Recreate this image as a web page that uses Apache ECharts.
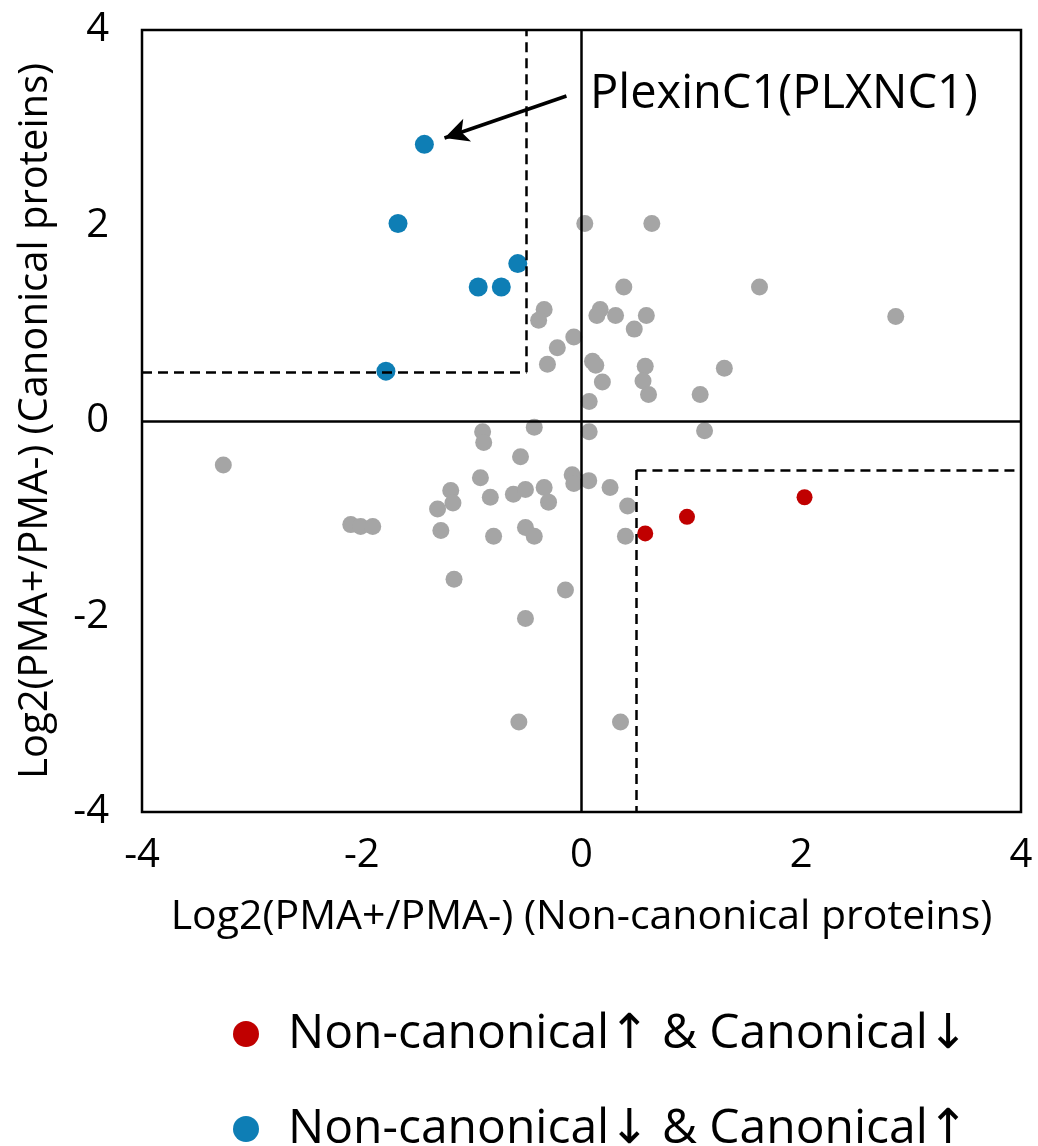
<!DOCTYPE html>
<html>
<head>
<meta charset="utf-8">
<script src="https://cdn.jsdelivr.net/npm/echarts@6/dist/echarts.min.js"></script>
<style>html,body{margin:0;padding:0;background:#fff}#c{width:1038px;height:1146px}</style>
</head>
<body>
<div id="c"></div>
<script>
// ---- data ----
const xTicks = [-4, -2, 0, 2, 4];
const yTicks = [-4, -2, 0, 2, 4];
const threshold = [0.5];

const grayX = [0.03, 0.64, 0.385, 1.62, 0.17, 0.14, 0.31, 0.59, 2.86, 0.48, -0.07, -0.22, 0.10, 0.13, 0.58, 1.30, 0.19, 0.56, 0.61, 1.08, 0.07, -0.34, -0.39, -0.31,
  0.07, 1.12, -3.26, -0.90, -0.89, -0.43, -0.555, -0.92, -0.085, -0.07, 0.066, -1.19, -1.17, -1.31, -0.83, -0.62, -0.51, -0.34, -0.30, -2.10, -2.01, -1.90, -1.28, -0.80, -0.51, -0.43, -1.16, -0.146, -0.51, -0.57, 0.26, 0.42, 0.40, 0.355];
const grayY = [2.02, 2.02, 1.37, 1.37, 1.14, 1.08, 1.08, 1.08, 1.07, 0.94, 0.86, 0.75, 0.61, 0.57, 0.56, 0.54, 0.40, 0.41, 0.27, 0.27, 0.20, 1.14, 1.03, 0.58,
  -0.11, -0.10, -0.45, -0.11, -0.22, -0.065, -0.365, -0.58, -0.55, -0.64, -0.61, -0.71, -0.84, -0.90, -0.78, -0.75, -0.70, -0.68, -0.83, -1.06, -1.08, -1.08, -1.12, -1.18, -1.09, -1.18, -1.62, -1.73, -2.02, -3.08, -0.68, -0.87, -1.18, -3.08];

const blueX = [-1.43, -1.67, -0.58, -0.94, -0.73, -1.78];
const blueY = [2.83, 2.02, 1.61, 1.37, 1.37, 0.51];

const redX = [0.58, 0.96, 2.03];
const redY = [-1.15, -0.98, -0.78];

const redName = 'Non-canonical\u2191 & Canonical\u2193';
const blueName = 'Non-canonical\u2193 & Canonical\u2191';
const annotationText = 'PlexinC1(PLXNC1)';
const annotationFrom = [-0.137, 3.325];
const annotationTo = [-1.247, 2.895];

const xTitle = 'Log2(PMA+/PMA-) (Non-canonical proteins)';
const yTitle = 'Log2(PMA+/PMA-) (Canonical proteins)';

// ---- build ----
const zip = (xs, ys) => xs.map((x, i) => [x, ys[i]]);
const FONT = '"Open Sans", "DejaVu Sans", sans-serif';
const t = threshold[0];
const lo = xTicks[0], hi = xTicks[xTicks.length - 1];
const ylo = yTicks[0], yhi = yTicks[yTicks.length - 1];

const solid = {color: '#000', width: 2.5, type: 'solid'};
const dashed = {color: '#000', width: 2.5, type: [10, 6]};

const chart = echarts.init(document.getElementById('c'), null, {renderer: 'canvas'});
chart.setOption({
  animation: false,
  backgroundColor: '#fff',
  textStyle: {fontFamily: FONT},
  grid: {left: 142, right: 17, top: 30, bottom: 334, show: true, borderColor: '#000', borderWidth: 2.5, containLabel: false},
  xAxis: {
    type: 'value', min: lo, max: hi, interval: xTicks[1] - xTicks[0],
    axisLine: {show: false, onZero: false}, axisTick: {show: false}, splitLine: {show: false},
    axisLabel: {fontSize: 40, color: '#000', margin: 24, fontFamily: FONT},
    name: xTitle, nameLocation: 'middle', nameGap: 85,
    nameTextStyle: {fontSize: 41, color: '#000', fontFamily: FONT}
  },
  yAxis: {
    type: 'value', min: ylo, max: yhi, interval: yTicks[1] - yTicks[0],
    axisLine: {show: false, onZero: false}, axisTick: {show: false}, splitLine: {show: false},
    axisLabel: {fontSize: 40, color: '#000', margin: 33, fontFamily: FONT},
    name: yTitle, nameLocation: 'middle', nameGap: 86, nameRotate: 90,
    nameTextStyle: {fontSize: 40, color: '#000', fontFamily: FONT}
  },
  legend: [
    {data: [redName], orient: 'vertical', left: 228, top: 1005, itemWidth: 26, itemHeight: 26, icon: 'circle',
     textStyle: {fontSize: 48, color: '#000', fontFamily: FONT, padding: [0, 0, 0, 24]}},
    {data: [blueName], orient: 'vertical', left: 228, top: 1100, itemWidth: 26, itemHeight: 26, icon: 'circle',
     textStyle: {fontSize: 48, color: '#000', fontFamily: FONT, padding: [0, 0, 0, 24]}}
  ],
  graphic: [
    {type: 'text', left: 590, top: 71, style: {text: annotationText, font: '47px ' + FONT, fill: '#000'}}
  ],
  series: [
    {name: 'other', type: 'scatter', data: zip(grayX, grayY), symbolSize: 17, itemStyle: {color: '#A5A5A5', opacity: 1}, z: 2},
    {name: blueName, type: 'scatter', data: zip(blueX, blueY), symbolSize: 19, itemStyle: {color: '#0E7EB5', opacity: 1}, z: 3},
    {name: redName, type: 'scatter', data: zip(redX, redY), symbolSize: 16, itemStyle: {color: '#C00000', opacity: 1}, z: 3},
    {name: 'lines', type: 'scatter', data: [], z: 5,
     markLine: {
       silent: true, animation: false, symbol: 'none', label: {show: false},
       data: [
         [{coord: [0, ylo], lineStyle: solid}, {coord: [0, yhi]}],
         [{coord: [lo, 0], lineStyle: solid}, {coord: [hi, 0]}],
         [{coord: [-t, t], lineStyle: dashed}, {coord: [-t, yhi]}],
         [{coord: [lo, t], lineStyle: dashed}, {coord: [-t, t]}],
         [{coord: [t, -t], lineStyle: dashed}, {coord: [t, ylo]}],
         [{coord: [t, -t], lineStyle: dashed}, {coord: [hi, -t]}],
         [{coord: annotationFrom, lineStyle: {color: '#000', width: 3.5, type: 'solid'}, symbol: 'none'},
          {coord: annotationTo, symbol: 'arrow', symbolSize: [18, 24]}]
       ]
     }}
  ]
});
</script>
</body>
</html>
